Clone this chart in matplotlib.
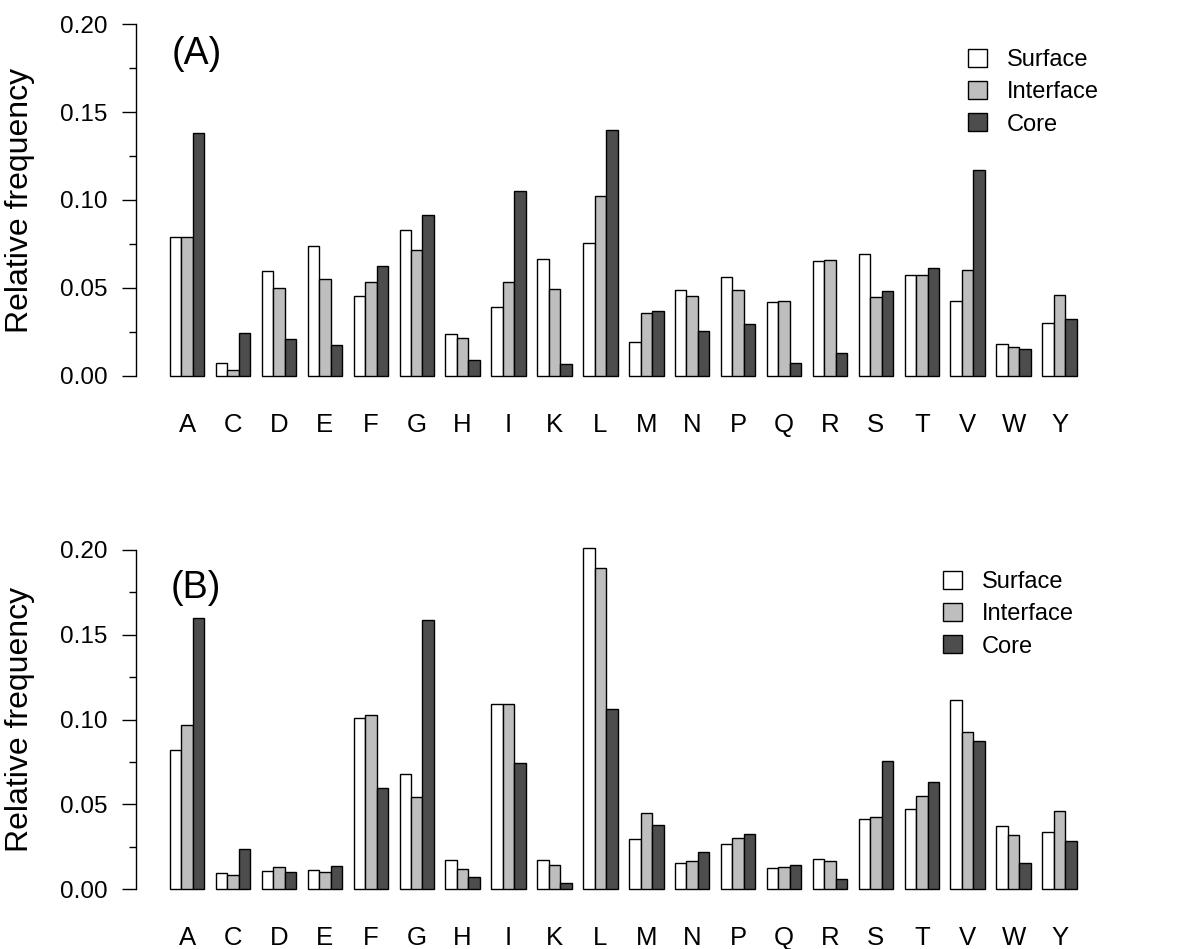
import matplotlib
matplotlib.use("Agg")
import numpy as np
from matplotlib import pyplot as plt
from matplotlib.patches import Patch

plt.rcParams["font.family"] = ["Liberation Sans", "DejaVu Sans"]

# ___DATA___ #
residues = ["A", "C", "D", "E", "F", "G", "H", "I", "K", "L",
            "M", "N", "P", "Q", "R", "S", "T", "V", "W", "Y"]
series_names = ["Surface", "Interface", "Core"]

# Panel (A)
surface_a = [0.079, 0.0076, 0.0595, 0.0739, 0.0457, 0.0828, 0.0237, 0.0389, 0.0663, 0.0758,
             0.0191, 0.0489, 0.0561, 0.0423, 0.0653, 0.0693, 0.0572, 0.0428, 0.018, 0.0301]
interface_a = [0.079, 0.0032, 0.050, 0.055, 0.0534, 0.0716, 0.0214, 0.0534, 0.0494, 0.1025,
               0.0355, 0.0457, 0.0487, 0.0426, 0.0659, 0.0449, 0.0572, 0.0602, 0.0165, 0.0462]
core_a = [0.138, 0.0244, 0.0212, 0.0173, 0.0623, 0.0917, 0.0091, 0.105, 0.0068, 0.1396,
          0.0369, 0.0258, 0.0295, 0.0076, 0.0131, 0.0481, 0.0612, 0.117, 0.0153, 0.0324]

# Panel (B)
surface_b = [0.0818, 0.0096, 0.0108, 0.0116, 0.1006, 0.0678, 0.0171, 0.1092, 0.0171, 0.2008,
             0.0298, 0.0153, 0.0265, 0.0125, 0.018, 0.0414, 0.0475, 0.1112, 0.0373, 0.0337]
interface_b = [0.097, 0.0084, 0.0131, 0.010, 0.1025, 0.0541, 0.0118, 0.109, 0.0141, 0.1894,
               0.0451, 0.0165, 0.0304, 0.0131, 0.0165, 0.0424, 0.0547, 0.0924, 0.0322, 0.046]
core_b = [0.1596, 0.0235, 0.010, 0.0135, 0.0596, 0.1588, 0.0075, 0.0745, 0.0035, 0.1063,
          0.0378, 0.0222, 0.0324, 0.0145, 0.0061, 0.0755, 0.0631, 0.0873, 0.0155, 0.0282]

fill_colors = ["#FFFFFF", "#BEBEBE", "#4D4D4D"]

W, H = 1183, 949
fig = plt.figure(figsize=(W / 100, H / 100), dpi=100)


def px_axes(left, right, top, bottom):
    # convert pixel box to figure fraction
    return [left / W, 1 - bottom / H, (right - left) / W, (bottom - top) / H]


# R style barplot: bars of width 1, gap of 1 between groups
def draw_panel(ax, series, tag, tag_xy, legend_xy):
    n = len(residues)
    starts = 1 + 4 * np.arange(n)
    for k, vals in enumerate(series):
        ax.bar(starts + k, vals, width=1, align="edge", color=fill_colors[k],
               edgecolor="black", linewidth=1.0, label=series_names[k])

    ax.set_xlim(-1.93, 83.16)
    ax.set_ylim(-0.008, 0.208)

    for side in ["top", "right", "bottom"]:
        ax.spines[side].set_visible(False)
    ax.spines["left"].set_bounds(0, 0.2)
    ax.spines["left"].set_linewidth(1.0)

    ax.set_yticks(np.arange(0, 0.201, 0.05))
    ax.set_yticklabels(["0.00", "0.05", "0.10", "0.15", "0.20"], fontsize=17.5)
    ax.set_yticks(np.arange(0.025, 0.2, 0.05), minor=True)
    # lengths in points (1 pt = 1.39 px here)
    ax.tick_params(axis="y", which="major", length=10, width=1, pad=10.5)
    ax.tick_params(axis="y", which="minor", length=5, width=1)

    ax.set_xticks(starts + 1.5)
    ax.set_xticklabels(residues, fontsize=18.5)
    ax.tick_params(axis="x", length=0, pad=16.5)

    ax.set_ylabel("Relative frequency", fontsize=23)
    ax.yaxis.set_label_coords((35 - 136.3) / (1113 - 136.3), 0.5)

    ax.text(tag_xy[0] / W, 1 - tag_xy[1] / H, tag, transform=fig.transFigure,
            fontsize=27, ha="left", va="center")

    handles = [Patch(facecolor=c, edgecolor="black", linewidth=1.0) for c in fill_colors]
    ax.legend(handles, series_names, loc="upper left", frameon=False,
              bbox_to_anchor=legend_xy, bbox_transform=fig.transFigure,
              fontsize=17, handlelength=0.8, handleheight=0.8,
              handletextpad=0.85, labelspacing=0.42, borderpad=0, borderaxespad=0)


ax_a = fig.add_axes(px_axes(136.3, 1113, 10, 390))
draw_panel(ax_a, [surface_a, interface_a, core_a], "(A)", (172, 54),
           (968 / W, 1 - 49 / H))

ax_b = fig.add_axes(px_axes(136.3, 1113, 536, 903))
draw_panel(ax_b, [surface_b, interface_b, core_b], "(B)", (171, 588),
           (943 / W, 1 - 571 / H))

fig.savefig("out.png", dpi=100)
